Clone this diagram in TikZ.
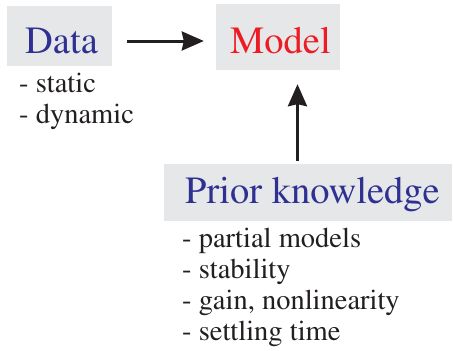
\documentclass[tikz,border=0pt]{standalone}
\usepackage[T1]{fontenc}
\usepackage{times}
\usetikzlibrary{arrows.meta}
\definecolor{boxgrey}{HTML}{E6E7E8}
\definecolor{titleblue}{HTML}{2E3192}
\definecolor{titlered}{HTML}{ED1C24}
\definecolor{inkblack}{HTML}{231F20}
\tikzset{
  panel/.style={fill=boxgrey, draw=none, inner sep=0pt, rectangle},
  title/.style={font=\rmfamily\fontsize{38.5}{40}\selectfont, inner sep=0pt, anchor=base},
  item/.style={font=\rmfamily\fontsize{28.5}{31}\selectfont, text=inkblack, inner sep=0pt, anchor=base west},
  flow/.style={draw=inkblack, line width=3pt, -{Stealth[length=22pt,width=19pt,inset=2pt]}}
}
\begin{document}
\begin{tikzpicture}[x=1pt,y=-1pt]
\useasboundingbox (0,0) rectangle (453,351);

% shaded panels
\node[panel, minimum width=105pt, minimum height=60pt] (data) at (59.5,36) {};
\node[panel, minimum width=124pt, minimum height=66pt] (model) at (278,37) {};
\node[panel, minimum width=288pt, minimum height=57pt] (prior) at (308,192.5) {};

% panel titles
\node[title, text=titleblue] (datatitle) at (61.5,53) {Data};
\node[title, text=titlered] (modeltitle) at (280.5,53) {Model};
\node[title, text=titleblue] (priortitle) at (312.5,203) {Prior knowledge};

% bullet lists
\node[item] (d1) at (19,92.5) {- static};
\node[item] (d2) at (19,123.5) {- dynamic};
\node[item] (p1) at (182,247) {- partial models};
\node[item] (p2) at (182,278) {- stability};
\node[item] (p3) at (182,309) {- gain, nonlinearity};
\node[item] (p4) at (182,340) {- settling time};

% arrows
\draw[flow] ([shift={(15,5)}]data.east) -- ([shift={(-12,4)}]model.west);
\draw[flow] ([shift={(-10.5,-3)}]prior.north) -- ([shift={(19.5,14)}]model.south);
\end{tikzpicture}
\end{document}
